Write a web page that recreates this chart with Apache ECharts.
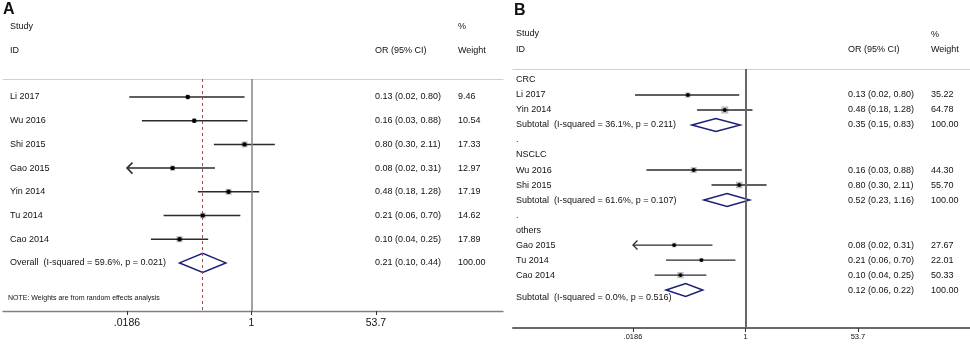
<!DOCTYPE html>
<html>
<head>
	<meta charset="utf-8"/>
	<title>Forest plot</title>
	<style>
		* { margin: 0; padding: 0; }
		body { background: #fff; }
		#myChart { width: 970px; height: 348px; }
	</style>
</head>
<body>
	<div id="myChart"></div>
	<script src="https://cdn.jsdelivr.net/npm/echarts@6/dist/echarts.min.js"></script>
	<script>
		// x axis ticks (odds ratio, log scale)
		var tickValues = [0.0186, 1, 53.7];
		var tickLabels = ['.0186', '1', '53.7'];

		// panel A: all studies
		var studiesA = ['Li 2017', 'Wu 2016', 'Shi 2015', 'Gao 2015', 'Yin 2014', 'Tu 2014', 'Cao 2014'];
		var orA     = [0.13, 0.16, 0.80, 0.08, 0.48, 0.21, 0.10];
		var lowA    = [0.02, 0.03, 0.30, 0.016, 0.18, 0.06, 0.04];
		var highA   = [0.80, 0.88, 2.11, 0.31, 1.28, 0.70, 0.25];
		var weightA = [9.46, 10.54, 17.33, 12.97, 17.19, 14.62, 17.89];
		var overallLabelA = 'Overall  (I-squared = 59.6%, p = 0.021)';
		var overallA = [0.21, 0.10, 0.44, 100.00];   // or, low, high, weight

		// panel B: by subgroup
		var groupsB  = ['CRC', 'NSCLC', 'others'];
		var studiesB = ['Li 2017', 'Yin 2014', 'Wu 2016', 'Shi 2015', 'Gao 2015', 'Tu 2014', 'Cao 2014'];
		var groupOfB = [0, 0, 1, 1, 2, 2, 2];
		var orB      = [0.13, 0.48, 0.16, 0.80, 0.08, 0.21, 0.10];
		var lowB     = [0.02, 0.18, 0.03, 0.30, 0.016, 0.06, 0.04];
		var highB    = [0.80, 1.28, 0.88, 2.11, 0.31, 0.70, 0.25];
		var weightB  = [35.22, 64.78, 44.30, 55.70, 27.67, 22.01, 50.33];
		var subLabelB = ['Subtotal  (I-squared = 36.1%, p = 0.211)', 'Subtotal  (I-squared = 61.6%, p = 0.107)', 'Subtotal  (I-squared = 0.0%, p = 0.516)'];
		var subOrB   = [0.35, 0.52, 0.12];
		var subLowB  = [0.15, 0.23, 0.06];
		var subHighB = [0.83, 1.16, 0.22];

		// rows for each panel
		var rowsA = [];
		studiesA.forEach(function (s, i) {
			rowsA.push({ row: i, type: 'study', label: s, or: orA[i], low: lowA[i], high: highA[i], w: weightA[i] });
		});
		rowsA.push({ row: studiesA.length, type: 'sum', label: overallLabelA, or: overallA[0], low: overallA[1], high: overallA[2], w: overallA[3] });

		var rowsB = [];
		var rb = 0;
		groupsB.forEach(function (g, gi) {
			rowsB.push({ row: rb++, type: 'head', label: g });
			studiesB.forEach(function (s, i) {
				if (groupOfB[i] !== gi) return;
				rowsB.push({ row: rb++, type: 'study', label: s, or: orB[i], low: lowB[i], high: highB[i], w: weightB[i] });
			});
			var last = gi === groupsB.length - 1;
			// the last subtotal label sits a little under its diamond in the original
			rowsB.push({ row: rb++, type: 'sum', label: subLabelB[gi], or: subOrB[gi], low: subLowB[gi], high: subHighB[gi], w: 100, dy: last ? 7 : 0 });
			if (!last) rowsB.push({ row: rb++, type: 'head', label: '.' });
		});

		var FONT = '"Liberation Sans", Arial, sans-serif';

		function forestRender(rows, cfg) {
			return function (params, api) {
				var r = rows[params.dataIndex];
				var y = api.coord([0, r.row])[1];
				var kids = [];
				function X(v) { return api.coord([Math.log(v), r.row])[0]; }
				function txt(x, s, dy) {
					kids.push({ type: 'text', x: x, y: y + (dy || 0), style: {
						text: s, fill: '#111', fontSize: cfg.fontSize, fontFamily: FONT, verticalAlign: 'middle'
					} });
				}
				if (r.label) txt(cfg.labelX, r.label, r.dy);
				if (r.type === 'study') {
					var clipped = r.low < tickValues[0];
					var x0 = X(clipped ? tickValues[0] : r.low), x1 = X(r.high), xc = X(r.or);
					var s = cfg.boxK * Math.sqrt(r.w);
					kids.push({ type: 'rect', shape: { x: xc - s / 2, y: y - s / 2, width: s, height: s }, style: { fill: '#bcbcbc' } });
					kids.push({ type: 'line', shape: { x1: x0, y1: y, x2: x1, y2: y }, style: { stroke: '#2a2a2a', lineWidth: cfg.ciW } });
					if (clipped) {
						kids.push({ type: 'polyline', shape: { points: [[x0 + cfg.arrow, y - cfg.arrow], [x0, y], [x0 + cfg.arrow, y + cfg.arrow]] },
							style: { stroke: '#2a2a2a', lineWidth: cfg.ciW, fill: null } });
					}
					kids.push({ type: 'circle', shape: { cx: xc, cy: y, r: cfg.dotR }, style: { fill: '#000' } });
				}
				if (r.type === 'sum') {
					var a = X(r.low), b = X(r.high), c = X(r.or), h = cfg.diaH;
					kids.push({ type: 'polygon', shape: { points: [[a, y], [c, y - h], [b, y], [c, y + h]] },
						style: { stroke: '#1c1f78', lineWidth: 1.5, fill: 'rgba(255,255,255,0)' } });
				}
				if (r.or != null) {
					txt(cfg.ciX, r.or.toFixed(2) + ' (' + r.low.toFixed(2) + ', ' + r.high.toFixed(2) + ')');
					txt(cfg.wX, r.w.toFixed(2));
				}
				return { type: 'group', children: kids };
			};
		}

		function tickFmt(v) {
			var best = 0;
			tickValues.forEach(function (t, i) {
				if (Math.abs(Math.log(t) - v) < Math.abs(Math.log(tickValues[best]) - v)) best = i;
			});
			return tickLabels[best];
		}
		var lnTicks = tickValues.map(function (t) { return Math.log(t); });

		function bottomAxis(gi, min, max, lineColor, lineW, fontSize, margin) {
			return {
				gridIndex: gi, type: 'value', position: 'bottom', min: min, max: max,
				splitLine: { show: false },
				axisLine: { show: true, onZero: false, lineStyle: { color: lineColor, width: lineW } },
				axisTick: { show: true, customValues: lnTicks, length: 4, lineStyle: { color: '#333' } },
				axisLabel: { customValues: lnTicks, formatter: tickFmt, color: '#111', fontSize: fontSize, fontFamily: FONT, margin: margin }
			};
		}
		function topAxis(gi, min, max) {
			return {
				gridIndex: gi, type: 'value', position: 'top', min: min, max: max,
				splitLine: { show: false }, axisTick: { show: false }, axisLabel: { show: false },
				axisLine: { show: true, onZero: false, lineStyle: { color: '#d0d0d0', width: 1 } }
			};
		}

		var myChart = echarts.init(document.getElementById('myChart'));

		function headText(x, y, s, size, bold) {
			return { type: 'text', x: x, y: y, style: { text: s, fill: '#111', fontSize: size, fontFamily: FONT,
				fontWeight: bold ? 'bold' : 'normal', verticalAlign: 'middle' } };
		}

		var option = {
			animation: false,
			backgroundColor: '#fff',
			grid: [
				{ left: 3, top: 79, width: 500, height: 232 },
				{ left: 513, top: 69, width: 457, height: 259 }
			],
			xAxis: [
				bottomAxis(0, -7.952, 8.048, '#808080', 1.3, 10.5, 7),
				topAxis(0, -7.952, 8.048),
				bottomAxis(1, -8.233, 7.95, '#6a6a6a', 2, 7.5, 5),
				topAxis(1, -8.233, 7.95)
			],
			yAxis: [
				{ gridIndex: 0, type: 'value', inverse: true, min: -0.76, max: 9.03, show: false },
				{ gridIndex: 1, type: 'value', inverse: true, min: -0.733, max: 16.53, show: false }
			],
			graphic: [
				headText(3, 10, 'A', 16, true),
				headText(10, 27, 'Study', 9),
				headText(10, 51, 'ID', 9),
				headText(375, 51, 'OR (95% CI)', 9),
				headText(458, 27, '%', 9),
				headText(458, 51, 'Weight', 9),
				headText(8, 298, 'NOTE: Weights are from random effects analysis', 7),
				headText(514, 10.5, 'B', 16, true),
				headText(516, 34, 'Study', 9),
				headText(516, 50, 'ID', 9),
				headText(848, 50, 'OR (95% CI)', 9),
				headText(931, 35, '%', 9),
				headText(931, 50, 'Weight', 9)
			],
			series: [
				{
					type: 'custom', xAxisIndex: 0, yAxisIndex: 0, clip: false,
					renderItem: forestRender(rowsA, { labelX: 10, ciX: 375, wX: 458, fontSize: 9, boxK: 1.45, ciW: 1.5, dotR: 2.2, diaH: 9.5, arrow: 5.5 }),
					data: rowsA.map(function (r) { return [0, r.row]; }),
					markLine: {
						symbol: 'none', silent: true, label: { show: false },
						data: [
							{ xAxis: 0, lineStyle: { color: '#858585', width: 1.5, type: 'solid' } },
							{ xAxis: Math.log(overallA[0]), lineStyle: { color: '#b04a4a', width: 1, type: [3, 3] } }
						]
					}
				},
				{
					type: 'custom', xAxisIndex: 2, yAxisIndex: 1, clip: false,
					renderItem: forestRender(rowsB, { labelX: 516, ciX: 848, wX: 931, fontSize: 9, boxK: 0.88, ciW: 1.3, dotR: 1.9, diaH: 6.5, arrow: 4.5 }),
					data: rowsB.map(function (r) { return [0, r.row]; }),
					markLine: {
						symbol: 'none', silent: true, label: { show: false },
						data: [
							{ xAxis: 0, lineStyle: { color: '#666', width: 2, type: 'solid' } }
						]
					}
				}
			]
		};

		myChart.setOption(option);
	</script>
</body>
</html>
